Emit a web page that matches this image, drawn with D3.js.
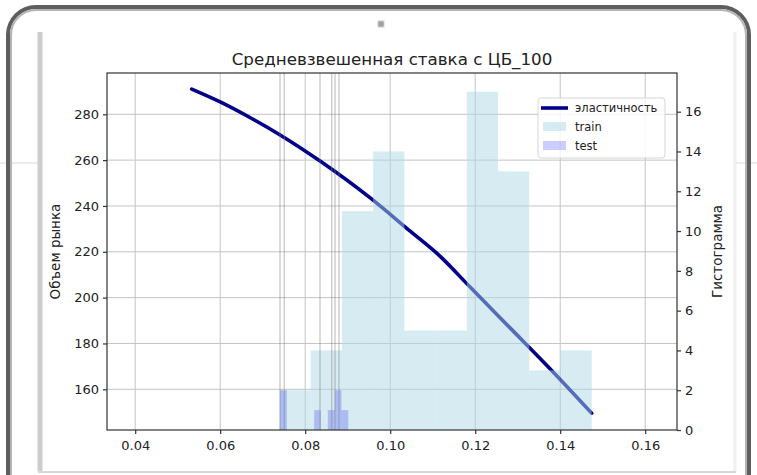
<!DOCTYPE html>
<html>
<head>
<meta charset="utf-8">
<script src="https://cdn.jsdelivr.net/npm/d3@7"></script>
<style>
    body { margin: 0; background: #fff; }
    text { font-family: 'DejaVu Sans', sans-serif; fill: #222; }
</style>
</head>
<body>
<div id="graph"></div>
<script>
var titleText = 'Средневзвешенная ставка с ЦБ_100';
var xTicks = [0.04, 0.06, 0.08, 0.10, 0.12, 0.14, 0.16];
var leftTicks = [160, 180, 200, 220, 240, 260, 280];
var rightTicks = [0, 2, 4, 6, 8, 10, 12, 14, 16];

// эластичность
var rate = [0.0533, 0.0600, 0.0670, 0.0741, 0.0835, 0.0953, 0.1047, 0.1117, 0.1188, 0.1282, 0.1376, 0.1474];
var volume = [291.0, 285.4, 278.6, 271.0, 259.6, 243.5, 229.0, 218.1, 204.6, 186.8, 169.0, 149.6];

// histograms
var trainRange = [0.07395, 0.14741];
var trainCounts = [2, 4, 11, 14, 5, 5, 17, 13, 3, 4];
var testRange = [0.07407, 0.09014];
var testCounts = [2, 0, 0, 0, 0, 1, 0, 1, 2, 1];
var testLines = [0.07407, 0.07508, 0.08348, 0.08624, 0.08701, 0.08795];

var legendItems = ['эластичность', 'train', 'test'];

var W = 757, H = 475;
var pL = 107, pR = 677, pT = 73, pB = 430;

var svg = d3.select('#graph')
    .append('svg')
        .attr('width', W)
        .attr('height', H);

// frame around the screenshot
svg.append('line')
    .attr('x1', 0).attr('x2', W).attr('y1', 163).attr('y2', 163)
    .style('stroke', '#ececec').style('stroke-width', 2);
svg.append('rect')
    .attr('x', 40).attr('y', 28).attr('width', 695).attr('height', 444)
    .style('fill', '#fff');
svg.append('rect')
    .attr('x', 8).attr('y', 7).attr('width', 741).attr('height', 540).attr('rx', 28)
    .style('fill', 'none').style('stroke', '#5e5e5e').style('stroke-width', 4);
svg.append('rect')
    .attr('x', 11).attr('y', 10).attr('width', 735).attr('height', 540).attr('rx', 25)
    .style('fill', 'none').style('stroke', '#b4b4b4').style('stroke-width', 2);
svg.append('line')
    .attr('x1', 40).attr('x2', 40).attr('y1', 32).attr('y2', 472)
    .style('stroke', '#cdcdcd').style('stroke-width', 5);
svg.append('line')
    .attr('x1', 735).attr('x2', 735).attr('y1', 32).attr('y2', 472)
    .style('stroke', '#f0f0f0').style('stroke-width', 3);
svg.append('line')
    .attr('x1', 38).attr('x2', 736).attr('y1', 472).attr('y2', 472)
    .style('stroke', '#d8d8d8').style('stroke-width', 2);
svg.append('rect')
    .attr('x', 378).attr('y', 21).attr('width', 6).attr('height', 6)
    .style('fill', '#a0a0a0').style('stroke', '#d0d0d0');

var x = d3.scaleLinear().domain([0.033365, 0.16748]).range([pL, pR]);
var y = d3.scaleLinear().domain([142.24, 298.02]).range([pB, pT]);
var y2 = d3.scaleLinear().domain([0, 17.945]).range([pB, pT]);

// grid
svg.append('g').selectAll('line')
    .data(xTicks).enter().append('line')
    .attr('x1', d => x(d)).attr('x2', d => x(d))
    .attr('y1', pT).attr('y2', pB)
    .style('stroke', '#c4c4c4').style('stroke-width', 1);
svg.append('g').selectAll('line')
    .data(leftTicks).enter().append('line')
    .attr('x1', pL).attr('x2', pR)
    .attr('y1', d => y(d)).attr('y2', d => y(d))
    .style('stroke', '#c4c4c4').style('stroke-width', 1);

// line
var line = d3.line()
    .x((d, i) => x(rate[i]))
    .y(d => y(d))
    .curve(d3.curveMonotoneX);
svg.append('path')
    .datum(volume)
    .attr('d', line)
    .style('fill', 'none')
    .style('stroke', '#00008b')
    .style('stroke-width', 3.6)
    .style('stroke-linecap', 'round');

function bins(range, counts) {
    var w = (range[1] - range[0]) / counts.length;
    return counts.map(function(c, i) {
        return { x0: range[0] + i * w, x1: range[0] + (i + 1) * w, n: c };
    });
}

svg.append('g').selectAll('rect')
    .data(bins(trainRange, trainCounts)).enter().append('rect')
    .attr('x', d => x(d.x0))
    .attr('width', d => x(d.x1) - x(d.x0))
    .attr('y', d => y2(d.n))
    .attr('height', d => y2(0) - y2(d.n))
    .style('fill', 'lightblue')
    .style('fill-opacity', 0.5);

svg.append('g').selectAll('rect')
    .data(bins(testRange, testCounts).filter(d => d.n > 0)).enter().append('rect')
    .attr('x', d => x(d.x0))
    .attr('width', d => x(d.x1) - x(d.x0))
    .attr('y', d => y2(d.n))
    .attr('height', d => y2(0) - y2(d.n))
    .style('fill', 'blue')
    .style('fill-opacity', 0.2);

svg.append('g').selectAll('line')
    .data(testLines).enter().append('line')
    .attr('x1', d => x(d)).attr('x2', d => x(d))
    .attr('y1', pT).attr('y2', pB)
    .style('stroke', 'gray')
    .style('stroke-opacity', 0.4)
    .style('stroke-width', 1.4);

// axes
var fmt = d3.format('.2f');
var xAxis = svg.append('g')
    .attr('transform', 'translate(0,' + pB + ')')
    .call(d3.axisBottom(x).tickValues(xTicks).tickFormat(fmt).tickSize(4).tickPadding(7));
var yAxis = svg.append('g')
    .attr('transform', 'translate(' + pL + ',0)')
    .call(d3.axisLeft(y).tickValues(leftTicks).tickSize(4).tickPadding(4));
var y2Axis = svg.append('g')
    .attr('transform', 'translate(' + pR + ',0)')
    .call(d3.axisRight(y2).tickValues(rightTicks).tickSize(4).tickPadding(4));

[xAxis, yAxis, y2Axis].forEach(function(a) {
    a.select('.domain').remove();
    a.selectAll('line').style('stroke', '#333').style('stroke-width', 1.2);
    a.selectAll('text').style('font-size', '13px').style('fill', '#222')
        .style('font-family', "'DejaVu Sans', sans-serif");
});

svg.append('rect')
    .attr('x', pL).attr('y', pT)
    .attr('width', pR - pL).attr('height', pB - pT)
    .style('fill', 'none').style('stroke', '#333').style('stroke-width', 1.2);

// labels
svg.append('text')
    .attr('x', (pL + pR) / 2).attr('y', 65)
    .attr('text-anchor', 'middle')
    .style('font-size', '16.7px')
    .text(titleText);
svg.append('text')
    .attr('transform', 'translate(60,' + (pT + pB) / 2 + ') rotate(-90)')
    .attr('text-anchor', 'middle')
    .style('font-size', '13.5px')
    .text('Объем рынка');
svg.append('text')
    .attr('transform', 'translate(722,' + (pT + pB) / 2 + ') rotate(-90)')
    .attr('text-anchor', 'middle')
    .style('font-size', '13.5px')
    .text('Гистограмма');

// LEGEND
var legend = svg.append('g').attr('transform', 'translate(538,98)');
legend.append('rect')
    .attr('width', 127).attr('height', 60).attr('rx', 3)
    .style('fill', '#fff').style('fill-opacity', 0.8)
    .style('stroke', '#d6d6d6');
legend.append('line')
    .attr('x1', 3).attr('x2', 30).attr('y1', 10).attr('y2', 10)
    .style('stroke', '#00008b').style('stroke-width', 3.6);
legend.append('rect')
    .attr('x', 5).attr('y', 24).attr('width', 23).attr('height', 9)
    .style('fill', 'lightblue').style('fill-opacity', 0.5);
legend.append('rect')
    .attr('x', 5).attr('y', 43).attr('width', 23).attr('height', 9)
    .style('fill', 'blue').style('fill-opacity', 0.2);
legend.selectAll('text.item')
    .data(legendItems).enter().append('text')
    .attr('class', 'item')
    .attr('x', 37)
    .attr('y', (d, i) => 14 + i * 19)
    .style('font-size', '11.5px')
    .text(d => d);
</script>
</body>
</html>
